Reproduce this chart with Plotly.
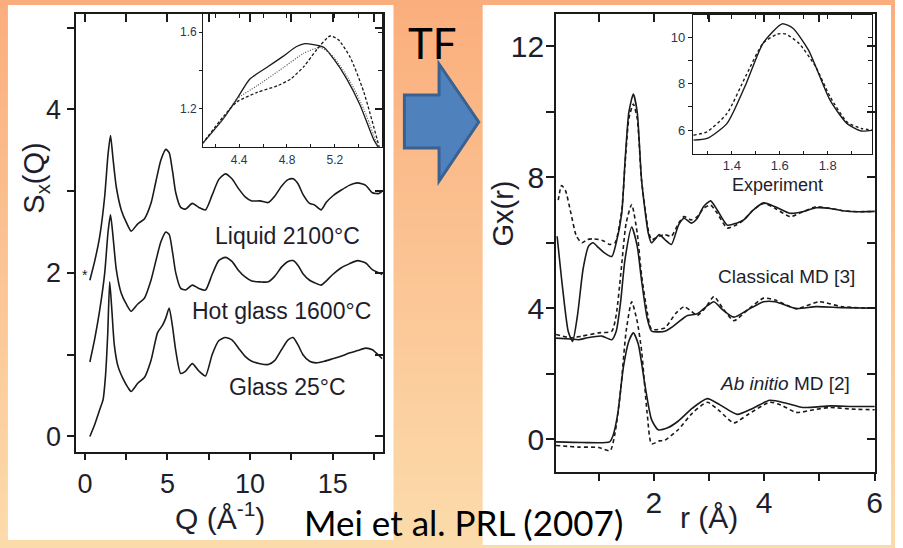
import plotly.graph_objects as go

W, H = 903, 548


def fx(x):
    """pixel x -> paper x"""
    return x / W


def fy(y):
    """pixel y (from top) -> paper y"""
    return 1 - y / H


# ---------------- S(Q) panel ----------------
q_liquid = [0.3, 0.6, 0.9, 1.2, 1.4, 1.55, 1.7, 1.9, 2.2, 2.5, 2.8, 3.2, 3.6, 4.0, 4.3, 4.6, 4.9, 5.1,
            5.3, 5.5, 5.8, 6.1, 6.5, 6.9, 7.3, 7.7, 8.1, 8.5, 8.9, 9.3, 9.7, 10.1, 10.6, 11.1, 11.5,
            11.9, 12.3, 12.6, 12.9, 13.2, 13.6, 13.9, 14.3, 14.6, 15.0, 15.5, 16.0, 16.5, 17.0,
            17.4, 17.8, 18.0]
s_liquid = [1.91, 2.15, 2.45, 2.94, 3.45, 3.68, 3.40, 3.05, 2.77, 2.62, 2.51, 2.60, 2.66, 2.85, 3.12,
            3.38, 3.51, 3.47, 3.25, 2.98, 2.80, 2.78, 2.85, 2.80, 2.77, 2.95, 3.14, 3.21, 3.15, 3.03,
            2.93, 2.88, 2.88, 2.86, 2.94, 3.06, 3.14, 3.15, 3.09, 2.96, 2.85, 2.83, 2.77, 2.86, 2.94,
            3.01, 3.07, 3.10, 3.07, 2.98, 2.97, 3.00]

q_hot = q_liquid
s_hot = [0.91, 1.20, 1.55, 2.00, 2.50, 2.71, 2.45, 2.04, 1.75, 1.62, 1.53, 1.62, 1.69, 1.91, 2.15,
         2.38, 2.50, 2.47, 2.26, 2.00, 1.81, 1.79, 1.85, 1.81, 1.79, 1.98, 2.15, 2.19, 2.14, 2.03,
         1.95, 1.90, 1.89, 1.89, 1.96, 2.07, 2.14, 2.15, 2.09, 1.99, 1.91, 1.88, 1.85, 1.90, 1.98,
         2.06, 2.11, 2.15, 2.12, 2.04, 2.00, 1.98]

q_glass = [0.3, 0.6, 0.9, 1.1, 1.25, 1.38, 1.5, 1.62, 1.78, 2.0, 2.3, 2.6, 2.8, 3.2, 3.6, 4.0, 4.4,
           4.7, 4.9, 5.1, 5.3, 5.5, 5.8, 6.1, 6.5, 6.9, 7.3, 7.7, 8.1, 8.5, 8.9, 9.3, 9.7, 10.1,
           10.6, 11.1, 11.5, 11.9, 12.3, 12.6, 12.9, 13.2, 13.6, 14.0, 14.5, 15.0, 15.5, 16.0,
           16.5, 17.0, 17.4, 17.8, 18.0]
s_glass = [0.00, 0.15, 0.33, 0.45, 0.75, 1.25, 1.89, 1.58, 1.12, 0.86, 0.71, 0.60, 0.55, 0.65, 0.72,
           0.93, 1.27, 1.36, 1.45, 1.57, 1.35, 1.05, 0.77, 0.80, 0.89, 0.80, 0.74, 1.00, 1.17, 1.21,
           1.18, 1.08, 0.98, 0.92, 0.89, 0.88, 0.93, 1.06, 1.18, 1.21, 1.12, 1.00, 0.92, 0.90, 0.92,
           0.95, 0.98, 1.02, 1.05, 1.08, 1.06, 0.99, 0.95]

# inset: first sharp diffraction region
qi_solid = [4.09, 4.27, 4.38, 4.49, 4.63, 4.77, 4.88, 4.95, 5.02, 5.11, 5.19, 5.30, 5.41, 5.52, 5.56]
si_solid = [1.015, 1.15, 1.25, 1.355, 1.415, 1.475, 1.525, 1.54, 1.535, 1.52, 1.46, 1.355, 1.22,
            1.045, 1.0]
qi_dot = [4.09, 4.27, 4.38, 4.55, 4.77, 4.94, 5.08, 5.19, 5.33, 5.44, 5.56]
si_dot = [1.015, 1.15, 1.25, 1.32, 1.415, 1.49, 1.52, 1.47, 1.34, 1.2, 1.0]
qi_dash = [4.09, 4.27, 4.38, 4.55, 4.72, 4.83, 4.94, 5.05, 5.16, 5.23, 5.33, 5.44, 5.57]
si_dash = [1.015, 1.16, 1.235, 1.285, 1.32, 1.355, 1.42, 1.51, 1.58, 1.56, 1.466, 1.29, 1.0]

# ---------------- G(r) panel ----------------
r_exp = [0.25, 0.35, 0.45, 0.53, 0.62, 0.72, 0.82, 0.9, 1.0, 1.1, 1.24, 1.32, 1.42, 1.48, 1.55,
         1.63, 1.7, 1.78, 1.9, 1.96, 2.1, 2.2, 2.32, 2.45, 2.55, 2.68, 2.79, 2.9, 3.03, 3.15, 3.33,
         3.5, 3.63, 3.8, 3.99, 4.2, 4.47, 4.7, 4.94, 5.2, 5.42, 5.7, 6.0]
g_exp = [6.2, 4.6, 3.3, 2.99, 3.8, 5.2, 5.9, 6.0, 5.85, 5.7, 5.58, 6.0, 6.9, 8.5, 10.0, 10.54, 10.0,
         7.9, 6.3, 6.0, 6.25, 6.1, 5.95, 6.55, 6.75, 6.6, 6.75, 7.1, 7.28, 7.0, 6.54, 6.6, 6.7, 7.0,
         7.22, 7.1, 6.9, 6.95, 7.07, 7.05, 6.98, 6.95, 6.96]
r_exp_d = [0.27, 0.33, 0.4, 0.5, 0.6, 0.7, 0.8, 0.9, 1.0, 1.1, 1.2, 1.3, 1.42, 1.48, 1.55, 1.63,
           1.7, 1.78, 1.9, 1.96, 2.1, 2.2, 2.32, 2.45, 2.55, 2.68, 2.79, 2.9, 3.03, 3.15, 3.33, 3.5,
           3.63, 3.8, 3.99, 4.2, 4.47, 4.7, 4.94, 5.2, 5.42, 5.7, 6.0]
g_exp_d = [7.3, 7.75, 7.6, 6.9, 6.2, 6.0, 6.1, 6.12, 6.1, 6.05, 5.95, 6.0, 7.0, 8.4, 9.8, 10.24,
           9.8, 7.9, 6.4, 6.1, 6.2, 6.25, 6.2, 6.6, 6.8, 6.7, 6.8, 7.05, 7.15, 6.9, 6.45, 6.55, 6.7,
           7.0, 7.2, 7.05, 6.8, 6.95, 7.1, 7.05, 6.98, 6.95, 6.96]

r_cmd = [0.23, 0.5, 0.64, 0.8, 1.06, 1.24, 1.32, 1.4, 1.48, 1.6, 1.7, 1.78, 1.88, 1.96, 2.1, 2.2,
         2.35, 2.44, 2.61, 2.79, 2.95, 3.09, 3.25, 3.45, 3.7, 3.99, 4.2, 4.58, 4.94, 5.4, 6.0]
g_cmd = [3.09, 3.06, 3.04, 3.1, 3.15, 3.04, 3.3, 4.2, 5.5, 6.48, 5.9, 4.84, 3.7, 3.3, 3.28, 3.3,
         3.45, 3.57, 3.78, 3.83, 4.05, 4.2, 3.95, 3.73, 3.95, 4.2, 4.2, 3.99, 4.05, 4.02, 4.0]
r_cmd_d = [0.23, 0.5, 0.7, 1.0, 1.24, 1.32, 1.4, 1.5, 1.6, 1.7, 1.78, 1.88, 1.96, 2.2, 2.4, 2.55,
           2.65, 2.79, 2.95, 3.09, 3.25, 3.45, 3.7, 3.99, 4.2, 4.58, 5.0, 5.4, 6.0]
g_cmd_d = [3.2, 3.1, 3.15, 3.25, 3.3, 3.8, 5.0, 6.6, 7.17, 6.3, 5.0, 3.9, 3.36, 3.4, 3.85, 4.05,
           3.95, 3.78, 4.05, 4.36, 4.0, 3.62, 3.95, 4.31, 4.25, 3.99, 4.2, 4.05, 4.0]

r_abi = [0.23, 0.7, 1.2, 1.26, 1.35, 1.45, 1.55, 1.63, 1.72, 1.84, 1.96, 2.08, 2.25, 2.44, 2.7,
         2.97, 3.2, 3.51, 3.8, 4.1, 4.4, 4.7, 5.2, 5.6, 6.0]
g_abi = [-0.08, -0.1, -0.08, 0.1, 0.8, 2.2, 3.0, 3.25, 2.9, 1.66, 0.6, 0.29, 0.35, 0.55, 0.95,
         1.24, 1.05, 0.76, 0.95, 1.19, 1.1, 0.97, 1.02, 1.0, 1.0]
r_abi_d = [0.23, 0.64, 1.0, 1.21, 1.3, 1.4, 1.5, 1.6, 1.7, 1.78, 1.88, 1.96, 2.1, 2.2, 2.44, 2.7,
           2.97, 3.2, 3.45, 3.7, 4.1, 4.3, 4.58, 4.9, 5.18, 5.6, 6.0]
g_abi_d = [-0.19, -0.24, -0.25, -0.35, 0.2, 1.5, 3.3, 4.2, 3.6, 2.7, 0.8, -0.14, -0.05, -0.03,
           0.29, 0.8, 1.13, 0.85, 0.5, 0.75, 1.13, 1.05, 0.82, 0.9, 0.97, 0.92, 0.9]

# inset: first Si-O peak
ri_solid = [1.24, 1.297, 1.38, 1.46, 1.53, 1.61, 1.655, 1.72, 1.81, 1.88, 1.94, 1.99]
gi_solid = [5.57, 5.64, 6.29, 8.01, 9.74, 10.58, 10.39, 9.45, 7.29, 6.29, 5.96, 6.0]
ri_dash = [1.24, 1.297, 1.38, 1.46, 1.53, 1.59, 1.625, 1.68, 1.75, 1.81, 1.88, 1.94, 1.99]
gi_dash = [5.78, 5.93, 6.72, 8.37, 9.74, 10.14, 10.14, 9.74, 8.73, 7.44, 6.36, 6.07, 6.0]

INK = "#1a1a1a"
LABEL = "#1e1e2c"
FONT = "Liberation Sans, Arial, sans-serif"
SLIDE_FONT = "Lato, Open Sans, sans-serif"

fig = go.Figure()


def line(x, y, xa, ya, dash="solid", width=1.6, color=INK, shape="spline"):
    fig.add_trace(go.Scatter(x=x, y=y, xaxis=xa, yaxis=ya, mode="lines",
                             line=dict(color=color, width=width, dash=dash, shape=shape,
                                       smoothing=0.6),
                             showlegend=False, hoverinfo="skip"))


line(q_liquid, s_liquid, "x", "y")
line(q_hot, s_hot, "x", "y")
line(q_glass, s_glass, "x", "y")

line(qi_solid, si_solid, "x3", "y3", width=1.3)
line(qi_dot, si_dot, "x3", "y3", dash="1px,1.5px", width=1.2, color="#555")
line(qi_dash, si_dash, "x3", "y3", dash="3px,2px", width=1.3)

line(r_exp, g_exp, "x2", "y2")
line(r_exp_d, g_exp_d, "x2", "y2", dash="4px,3px")
line(r_cmd, g_cmd, "x2", "y2")
line(r_cmd_d, g_cmd_d, "x2", "y2", dash="4px,3px")
line(r_abi, g_abi, "x2", "y2")
line(r_abi_d, g_abi_d, "x2", "y2", dash="4px,3px")

line(ri_solid, gi_solid, "x4", "y4", width=1.4)
line(ri_dash, gi_dash, "x4", "y4", dash="3px,2.5px", width=1.4)


def labels(vals, shown):
    return [(("%g" % v) if v in shown else "") for v in vals]


def axis(domain, rng, tickvals, shown, fsize, ticks, ticklen, anchor, standoff=None,
         lw=1.6, fcolor=LABEL):
    d = dict(domain=domain, range=rng, tickmode="array", tickvals=tickvals,
             ticktext=labels(tickvals, shown), ticks=ticks, ticklen=ticklen, tickwidth=lw,
             tickcolor=INK, showline=True, linecolor=INK, linewidth=lw, mirror=True,
             showgrid=False, zeroline=False, anchor=anchor,
             tickfont=dict(family=FONT, size=fsize, color=fcolor))
    if standoff is not None:
        d["ticklabelstandoff"] = standoff
    return d


sq_x = [0, 2.5, 5, 7.5, 10, 12.5, 15, 17.5]
sq_y = [0, 1, 2, 3, 4, 5]
gr_x = [1, 2, 3, 4, 5, 6]
gr_y = [0, 2, 4, 6, 8, 10, 12]
isq_x = [4.2, 4.4, 4.6, 4.8, 5.0, 5.2, 5.4]
isq_y = [1.2, 1.4, 1.6]
igr_x = [1.3, 1.4, 1.5, 1.6, 1.7, 1.8, 1.9]
igr_y = [6, 7, 8, 9, 10]

layout_axes = dict(
    xaxis=axis([fx(77), fx(386)], [-0.52, 18.02], sq_x, [0, 5, 10, 15], 27, "outside", 6, "y",
               standoff=1),
    yaxis=axis([fy(452), fy(13.6)], [-0.19, 5.17], sq_y, [0, 2, 4], 27, "outside", 8, "x"),
    xaxis2=axis([fx(561), fx(883)], [0.23, 6.01], gr_x, [2, 4, 6], 30, "outside", 7, "y2",
                standoff=-4),
    yaxis2=axis([fy(472), fy(13.6)], [-1.0, 13.0], gr_y, [0, 4, 8, 12], 30, "outside", 8, "x2",
                standoff=-4),
    xaxis3=axis([fx(205), fx(385)], [4.1, 5.59], isq_x, [4.4, 4.8, 5.2], 12, "inside", 3, "y3",
                lw=1.1, fcolor="#2c3550", standoff=2),
    yaxis3=axis([fy(147), fy(14)], [1.0, 1.695], isq_y, [1.2, 1.6], 12, "outside", 3, "x3",
                lw=1.1, fcolor="#2c3550"),
    xaxis4=axis([fx(699), fx(880)], [1.237, 1.986], igr_x, [1.4, 1.6, 1.8], 13, "inside", 3,
                "y4", lw=1.1, fcolor="#2c3550", standoff=-1),
    yaxis4=axis([fy(154), fy(15)], [4.97, 10.96], igr_y, [6, 8, 10], 13, "outside", 4, "x4",
                lw=1.1, fcolor="#2c3550"),
)

# inward-pointing ticks on the top and right frame edges
mirror_specs = [("x", "y", sq_x, sq_y, 8), ("x2", "y2", gr_x, gr_y, 8),
                ("x3", "y3", isq_x, isq_y, 4), ("x4", "y4", igr_x, igr_y, 4)]
n = 5
for xa, ya, tx, ty, tl in mirror_specs:
    xs = layout_axes["xaxis" + xa[1:]]
    ys = layout_axes["yaxis" + ya[1:]]
    layout_axes["xaxis%d" % n] = dict(overlaying=xa, side="top", anchor=ya, range=xs["range"],
                                      tickmode="array", tickvals=tx, ticks="inside", ticklen=tl,
                                      tickwidth=xs["tickwidth"], tickcolor=INK,
                                      showticklabels=False, showline=False, showgrid=False,
                                      zeroline=False)
    layout_axes["yaxis%d" % n] = dict(overlaying=ya, side="right", anchor=xa, range=ys["range"],
                                      tickmode="array", tickvals=ty, ticks="inside", ticklen=tl,
                                      tickwidth=ys["tickwidth"], tickcolor=INK,
                                      showticklabels=False, showline=False, showgrid=False,
                                      zeroline=False)
    fig.add_trace(go.Scatter(x=[None], y=[None], xaxis="x%d" % n, yaxis=ya, mode="lines",
                             showlegend=False, hoverinfo="skip"))
    fig.add_trace(go.Scatter(x=[None], y=[None], xaxis=xa, yaxis="y%d" % n, mode="lines",
                             showlegend=False, hoverinfo="skip"))
    n += 1

# slide background: vertical orange-to-peach gradient in thin bands
shapes = []
top_c = (251, 174, 125)
bot_c = (252, 219, 171)
bands = 60
for i in range(bands):
    t = i / (bands - 1)
    c = tuple(round(a + (b - a) * t) for a, b in zip(top_c, bot_c))
    shapes.append(dict(type="rect", xref="paper", yref="paper", layer="below",
                       x0=0, x1=1, y0=1 - (i + 1) / bands - 0.002, y1=1 - i / bands,
                       fillcolor="rgb(%d,%d,%d)" % c, line=dict(width=0)))

# white figure cards
for x0, y0, x1, y1 in [(8, 5, 397, 540), (487, 5, 899, 545)]:
    shapes.append(dict(type="rect", xref="paper", yref="paper", layer="below",
                       x0=fx(x0), x1=fx(x1), y0=fy(y1), y1=fy(y0),
                       fillcolor="white", line=dict(width=0)))

# block arrow
arrow = [(408, 95), (443, 95), (443, 64), (483, 122), (443, 181), (443, 148), (408, 148)]
path = "M " + " L ".join("%.5f,%.5f" % (fx(x), fy(y)) for x, y in arrow) + " Z"
shapes.append(dict(type="path", xref="paper", yref="paper", path=path, layer="above",
                   fillcolor="#4F81BD", line=dict(color="#3A6190", width=3)))


def text(s, x, y, size, font=FONT, color=LABEL, angle=0, xanchor="center"):
    return dict(text=s, x=fx(x), y=fy(y), xref="paper", yref="paper", showarrow=False,
                xanchor=xanchor, yanchor="middle", textangle=angle,
                font=dict(family=font, size=size, color=color))


annotations = [
    text("TF", 436, 43, 42, font=SLIDE_FONT, color="black"),
    text("Mei et al. PRL (2007)", 468, 522, 35, font=SLIDE_FONT, color="black"),
    text("Q (Å<sup>-1</sup>)", 222, 516, 30),
    text("S<sub>x</sub>(Q)", 36, 178, 29, angle=-90),
    text("r (Å)", 715, 517, 30),
    text("Gx(r)", 508, 213, 29, angle=-90),
    text("Liquid 2100°C", 290, 236, 23),
    text("Hot glass 1600°C", 284, 311, 23),
    text("Glass 25°C", 290, 387, 23),
    text("*", 86, 275, 14, color=INK),
    text("Experiment", 784, 185, 18),
    text("Classical MD [3]", 794, 276, 19),
    text("<i>Ab initio</i> MD [2]", 792, 383, 19),
]

fig.update_layout(width=W, height=H, margin=dict(l=0, r=0, t=0, b=0),
                  paper_bgcolor="white", plot_bgcolor="rgba(0,0,0,0)",
                  shapes=shapes, annotations=annotations, showlegend=False,
                  **layout_axes)

fig.write_html("out.html")
